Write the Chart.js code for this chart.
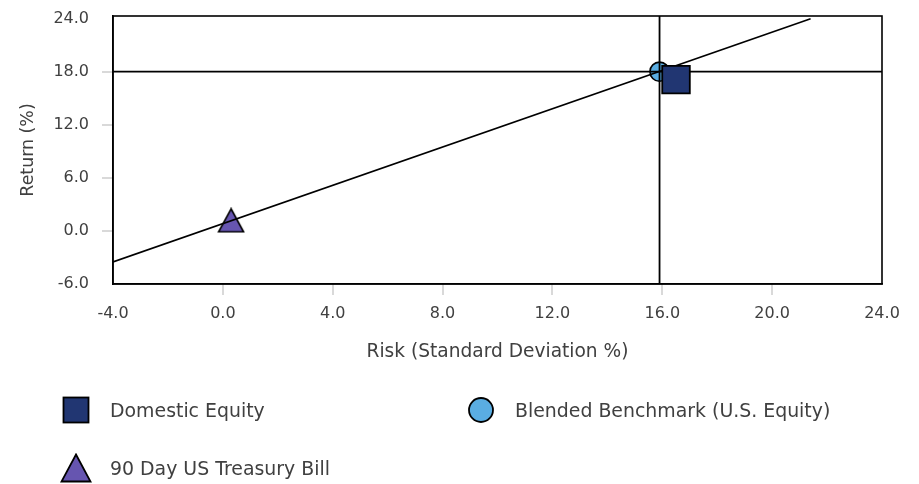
<!DOCTYPE html>
<html>
<head>
<meta charset="utf-8">
<script src="https://cdn.jsdelivr.net/npm/chart.js@4.4.1/dist/chart.umd.min.js"></script>
<style>
  body { margin: 0; background: #fff; }
  #wrap { position: relative; width: 919px; height: 484px; }
  #legend { position: absolute; left: 0; top: 0; width: 919px; height: 484px; pointer-events: none;
    font-family: "DejaVu Sans", sans-serif; font-size: 18.9px; color: #404040; }
  .lg-item { position: absolute; display: flex; align-items: center; white-space: nowrap; }
  .lg-item svg { display: block; }
</style>
</head>
<body>
<div id="wrap">
  <canvas id="riskChart" width="919" height="484"></canvas>
  <div id="legend"></div>
</div>
<script>
// ---- DATA ----
const pointLabels = ['Domestic Equity', 'Blended Benchmark (U.S. Equity)', '90 Day US Treasury Bill'];
const riskValues = [16.5, 15.9, 0.3];
const returnValues = [17.1, 18.0, 1.2];
const pointColors = ['#213672', '#5aade2', '#6655b0'];

// capital market line end points
const marketLineRisk = [-4.0, 21.4];
const marketLineReturn = [-3.5, 24.0];

const xTicks = [-4, 0, 4, 8, 12, 16, 20, 24];
const yTicks = [-6, 0, 6, 12, 18, 24];

const FONT = '"DejaVu Sans", sans-serif';
const TEXT = '#404040';

// triangle marker centred in its box (like the original)
function makeTriangle(w, h, fill) {
  const c = document.createElement('canvas');
  c.width = w; c.height = h;
  const g = c.getContext('2d');
  g.beginPath();
  g.moveTo(w / 2, 1.5);
  g.lineTo(w - 1.5, h - 1.5);
  g.lineTo(1.5, h - 1.5);
  g.closePath();
  g.fillStyle = fill;
  g.fill();
  g.lineWidth = 1.6;
  g.strokeStyle = '#000';
  g.stroke();
  return c;
}

function pt(i) {
  return [{ x: riskValues[i], y: returnValues[i] }];
}

const bench = 1;
const xMin = xTicks[0], xMax = xTicks[xTicks.length - 1];
const yMin = yTicks[0], yMax = 24.3;

const datasets = [
  {
    label: pointLabels[0], data: pt(0), order: 0,
    pointStyle: 'rect', pointRadius: 19.5, backgroundColor: pointColors[0],
    borderColor: '#000', borderWidth: 1.8
  },
  {
    label: 'cml', type: 'line', order: 1,
    data: marketLineRisk.map((x, i) => ({ x: x, y: marketLineReturn[i] })),
    borderColor: '#000', borderWidth: 1.6, pointRadius: 0, fill: false
  },
  {
    label: 'vline', type: 'line', order: 1,
    data: [{ x: riskValues[bench], y: yMin }, { x: riskValues[bench], y: yMax }],
    borderColor: '#000', borderWidth: 1.8, pointRadius: 0, fill: false
  },
  {
    label: 'hline', type: 'line', order: 1,
    data: [{ x: xMin, y: returnValues[bench] }, { x: xMax, y: returnValues[bench] }],
    borderColor: '#000', borderWidth: 1.8, pointRadius: 0, fill: false
  },
  {
    label: pointLabels[1], data: pt(1), order: 2,
    pointStyle: 'circle', pointRadius: 9.6, backgroundColor: pointColors[1],
    borderColor: '#000', borderWidth: 1.6
  },
  {
    label: pointLabels[2], data: pt(2), order: 2,
    pointStyle: makeTriangle(28, 26, pointColors[2]), pointRadius: 14,
    backgroundColor: pointColors[2], borderColor: '#000'
  }
];

function tickGridColor(ctx) {
  const v = ctx.tick ? ctx.tick.value : null;
  if (v === xMin || v === xMax || v === yMin || v === 24) return 'rgba(0,0,0,0)';
  return '#d9d9d9';
}

function noOverhang(s) {
  s.paddingTop = 0; s.paddingBottom = 0;
  s.paddingLeft = 0; s.paddingRight = 0;
}

new Chart(document.getElementById('riskChart'), {
  type: 'scatter',
  data: { datasets: datasets },
  options: {
    responsive: false,
    animation: false,
    devicePixelRatio: 1,
    layout: { autoPadding: false, padding: { left: 0, right: 37, top: 16, bottom: 118 } },
    plugins: { legend: { display: false }, tooltip: { enabled: false } },
    scales: {
      x: {
        type: 'linear', min: xMin, max: xMax,
        afterBuildTicks: s => { s.ticks = xTicks.map(v => ({ value: v })); },
        afterFit: s => { s.height = 82; noOverhang(s); },
        border: { display: true, color: '#000', width: 1.6 },
        grid: { drawOnChartArea: false, drawTicks: true, tickLength: 11, color: tickGridColor, lineWidth: 2 },
        ticks: { padding: 9, color: TEXT, font: { family: FONT, size: 16 }, callback: v => v.toFixed(1) },
        title: { display: true, text: 'Risk (Standard Deviation %)', color: TEXT,
          font: { family: FONT, size: 18.6 }, padding: { top: 4, bottom: 3 } }
      },
      y: {
        type: 'linear', min: yMin, max: yMax,
        afterBuildTicks: s => { s.ticks = yTicks.map(v => ({ value: v })); },
        afterFit: s => { s.width = 113; noOverhang(s); },
        border: { display: true, color: '#000', width: 1.6 },
        grid: { drawOnChartArea: false, drawTicks: true, tickLength: 11, color: tickGridColor, lineWidth: 2 },
        ticks: { padding: 13, color: TEXT, font: { family: FONT, size: 16 }, callback: v => v.toFixed(1) },
        title: { display: true, text: 'Return (%)', color: TEXT,
          font: { family: FONT, size: 17.4 }, padding: { top: 18, bottom: 4 } }
      }
    }
  },
  plugins: [{
    // box round the plot area
    id: 'frame',
    afterDatasetsDraw(chart) {
      const a = chart.chartArea, g = chart.ctx;
      g.save();
      g.strokeStyle = '#000';
      g.lineWidth = 1.6;
      g.strokeRect(a.left, a.top, a.right - a.left, a.bottom - a.top);
      g.restore();
    }
  }]
});

// ---- HTML LEGEND ----
const legendPos = [
  { left: 62, top: 396 },
  { left: 467, top: 396 },
  { left: 60, top: 453 }
];

function legendIcon(i) {
  if (i === 0) {
    return `<svg width="28" height="28"><rect x="1.5" y="1.5" width="25" height="25" fill="${pointColors[0]}" stroke="#000" stroke-width="1.8"/></svg>`;
  }
  if (i === 1) {
    return `<svg width="28" height="28"><circle cx="14" cy="14" r="12" fill="${pointColors[1]}" stroke="#000" stroke-width="1.8"/></svg>`;
  }
  return `<svg width="32" height="30"><polygon points="16,1.5 30.5,28.5 1.5,28.5" fill="${pointColors[2]}" stroke="#000" stroke-width="1.8"/></svg>`;
}

document.getElementById('legend').innerHTML = pointLabels.map((label, i) => `
  <div class="lg-item" style="left:${legendPos[i].left}px; top:${legendPos[i].top}px;">
    ${legendIcon(i)}
    <span style="margin-left:${i === 2 ? 18 : 20}px">${label}</span>
  </div>
`).join('');
</script>
</body>
</html>
